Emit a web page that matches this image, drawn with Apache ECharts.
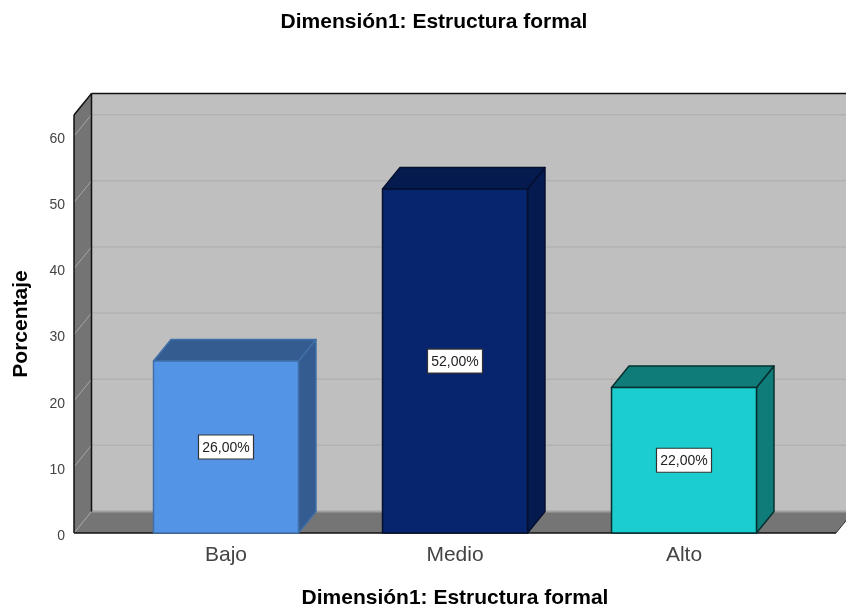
<!DOCTYPE html>
<html>
<head>
<meta charset="utf-8">
<script src="https://cdn.jsdelivr.net/npm/echarts@6/dist/echarts.min.js"></script>
<style>html,body{margin:0;padding:0;background:#fff}#c{width:846px;height:610px}</style>
</head>
<body>
<div id="c"></div>
<script>
const chartTitle = 'Dimensión1: Estructura formal';
const categories = ['Bajo', 'Medio', 'Alto'];
const percentages = [26, 52, 22];
const yTicks = [0, 10, 20, 30, 40, 50, 60];
const frontColors = ['#5494e6', '#07246e', '#1bcdcf'];
const sideColors = ['#345c90', '#051a4f', '#107c7a'];
const edgeColors = ['#3f6fa8', '#04102e', '#06302f'];

// Oblique projection of the box depth, and the room's overhang past the outer bands
const depthX = 17.5, depthY = 21.5, overhang = 37.5;
const FONT = '"Liberation Sans", Arial, sans-serif';

const poly = (points, fill, z2) => ({
  type: 'polygon', z2, shape: { points },
  style: { fill, stroke: null }
});
const line = (x1, y1, x2, y2, stroke, lineWidth, z2) => ({
  type: 'line', z2, shape: { x1, y1, x2, y2 },
  style: { stroke, lineWidth, fill: null }
});

// Side wall, back wall, floor and their gridlines
function renderRoom(params, api) {
  const cs = params.coordSys;
  const L = cs.x - overhang, R = cs.x + cs.width + overhang;
  const y0 = api.coord([0, 0])[1], T = cs.y;
  const kids = [
    poly([[L + depthX, T - depthY], [R + depthX, T - depthY], [R + depthX, y0 - depthY], [L + depthX, y0 - depthY]], '#bfbfbf', 1),
    poly([[L, T], [L + depthX, T - depthY], [L + depthX, y0 - depthY], [L, y0]], '#747474', 2),
    poly([[L, y0], [L + depthX, y0 - depthY], [R + depthX, y0 - depthY], [R, y0]], '#757575', 2)
  ];
  yTicks.forEach(v => {
    const y = api.coord([0, v])[1];
    if (v > 0) kids.push(line(L + depthX, y - depthY, R + depthX, y - depthY, '#b2b2b2', 1.5, 3));
    kids.push(line(L, y, L + depthX, y - depthY, '#a5a5a5', 1, 3));
  });
  kids.push(
    line(L + depthX, y0 - depthY, R + depthX, y0 - depthY, '#a0a0a0', 2, 3),
    line(L + depthX, T - depthY, R + depthX, T - depthY, '#111', 1.5, 4),
    line(L + depthX, T - depthY, L + depthX, y0 - depthY, '#111', 1.5, 4),
    line(L, T, L + depthX, T - depthY, '#111', 1.5, 4),
    line(L, T, L, y0, '#111', 1.5, 4),
    line(L, y0, R, y0, '#111', 1.5, 4),
    line(R, y0, R + depthX, y0 - depthY, '#333', 1, 4)
  );
  return { type: 'group', children: kids };
}

// One box per category with its value tag in the middle of the front face
function renderBox(params, api) {
  const i = api.value(0), v = api.value(1);
  const [cx, top] = api.coord([i, v]);
  const base = api.coord([i, 0])[1];
  const w = api.size([1, 0])[0] * 0.633;
  const l = cx - w / 2, r = cx + w / 2;
  const edge = { stroke: edgeColors[i], lineWidth: 1.5, lineJoin: 'round' };
  return {
    type: 'group',
    children: [
      { type: 'polygon', shape: { points: [[r, top], [r + depthX, top - depthY], [r + depthX, base - depthY], [r, base]] }, style: { fill: sideColors[i], ...edge } },
      { type: 'polygon', shape: { points: [[l, top], [l + depthX, top - depthY], [r + depthX, top - depthY], [r, top]] }, style: { fill: sideColors[i], ...edge } },
      { type: 'rect', shape: { x: l, y: top, width: w, height: base - top }, style: { fill: frontColors[i], ...edge } },
      { type: 'rect', shape: { x: cx - 27.5, y: (top + base) / 2 - 12, width: 55, height: 24 }, style: { fill: '#fff', stroke: '#333', lineWidth: 1.2 } },
      { type: 'text', style: { x: cx, y: (top + base) / 2 + 1, text: v.toFixed(2).replace('.', ',') + '%', align: 'center', verticalAlign: 'middle', fill: '#222', font: '14px ' + FONT } }
    ]
  };
}

const chart = echarts.init(document.getElementById('c'), null, { renderer: 'canvas' });
chart.setOption({
  animation: false,
  backgroundColor: '#fff',
  title: {
    text: chartTitle, left: 429, top: 7, textAlign: 'center',
    textStyle: { fontFamily: FONT, fontSize: 21, fontWeight: 'bold', color: '#000' }
  },
  grid: { left: 111.5, top: 115, width: 687, height: 418, outerBoundsMode: 'none' },
  xAxis: {
    type: 'category', data: categories,
    axisLine: { show: false }, axisTick: { show: false }, splitLine: { show: false },
    axisLabel: { fontFamily: FONT, fontSize: 21, color: '#444', margin: 12 },
    name: chartTitle, nameLocation: 'middle', nameGap: 55,
    nameTextStyle: { fontFamily: FONT, fontSize: 21, fontWeight: 'bold', color: '#000' }
  },
  yAxis: {
    type: 'value', min: 0, max: 63.2, interval: 10, offset: 37.5,
    axisLine: { show: false }, axisTick: { show: false }, splitLine: { show: false },
    axisLabel: { fontFamily: FONT, fontSize: 14, color: '#444', margin: 9, showMaxLabel: false, verticalAlign: 'top', lineHeight: 6 },
    name: 'Porcentaje', nameLocation: 'middle', nameGap: 42, nameRotate: 90,
    nameTextStyle: { fontFamily: FONT, fontSize: 21, fontWeight: 'bold', color: '#000' }
  },
  series: [
    { type: 'custom', coordinateSystem: 'cartesian2d', clip: false, z: 1, silent: true, renderItem: renderRoom, data: [[0, 0]] },
    { type: 'custom', coordinateSystem: 'cartesian2d', clip: false, z: 2, renderItem: renderBox, encode: { x: 0, y: 1 }, data: percentages.map((v, i) => [i, v]) }
  ]
});
</script>
</body>
</html>
